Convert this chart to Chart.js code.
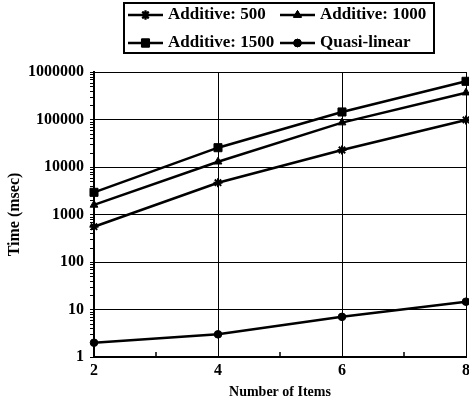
<!DOCTYPE html>
<html><head><meta charset="utf-8">
<script src="https://cdn.jsdelivr.net/npm/chart.js@4"></script>
<style>html,body{margin:0;padding:0;background:#fff;overflow:hidden;width:469px;height:407px}canvas{display:block}</style>
</head><body>
<canvas id="c" width="474" height="407"></canvas>
<script>
const items = [2, 4, 6, 8];
const additive500 = [553, 4670, 22800, 98000];
const additive1000 = [1590, 12900, 86000, 367000];
const additive1500 = [2930, 25500, 144000, 637000];
const quasiLinear = [2.0, 3.0, 7.0, 14.6];
const seriesNames = ['Additive: 500', 'Additive: 1000', 'Additive: 1500', 'Quasi-linear'];
const xTickLabels = [2, 4, 6, 8];
const yTickLabels = [1, 10, 100, 1000, 10000, 100000, 1000000];
const xMinorTicks = [3, 5, 7];
const yMinorSteps = [2, 3, 4, 5, 6, 7, 8, 9];

const FONT = '"Liberation Serif", "Times New Roman", serif';
const pts = arr => items.map((x, i) => ({x, y: arr[i]}));

function ds(label, data, style, radius) {
  return {
    label, data: pts(data), borderColor: '#000', backgroundColor: '#000',
    borderWidth: 2.5, pointStyle: style, pointRadius: radius, pointHoverRadius: radius,
    pointBorderColor: '#000', pointBackgroundColor: '#000', pointBorderWidth: style === 'star' ? 2 : 1,
    tension: 0, clip: false
  };
}

const legendPlugin = {
  id: 'boxLegend',
  afterDraw(chart) {
    const ctx = chart.ctx;
    ctx.save();
    ctx.lineWidth = 2;
    ctx.strokeStyle = '#000';
    ctx.strokeRect(124, 3, 310, 50);
    const pos = [[128, 15], [280, 15], [128, 43], [280, 43]];
    ctx.font = 'bold 17px ' + FONT;
    ctx.textBaseline = 'middle';
    ctx.fillStyle = '#000';
    chart.data.datasets.forEach((d, k) => {
      const [x, y] = pos[k];
      ctx.beginPath();
      ctx.lineWidth = 2.5;
      ctx.moveTo(x, y); ctx.lineTo(x + 35, y); ctx.stroke();
      ctx.lineWidth = d.pointBorderWidth;
      Chart.helpers.drawPoint(ctx, {pointStyle: d.pointStyle, rotation: 0, borderWidth: d.pointBorderWidth, radius: d.pointRadius}, x + 17.5, y);
      ctx.fill(); ctx.stroke();
      ctx.fillText(d.label, x + 40, y);
    });
    ctx.restore();
  }
};

const minorTickPlugin = {
  id: 'minorTicks',
  afterDatasetsDraw(chart) {
    const ctx = chart.ctx, xs = chart.scales.x, ys = chart.scales.y, area = chart.chartArea;
    ctx.save();
    ctx.strokeStyle = '#000'; ctx.lineWidth = 1.5;
    xMinorTicks.forEach(v => {
      const px = xs.getPixelForValue(v);
      ctx.beginPath(); ctx.moveTo(px, area.bottom); ctx.lineTo(px, area.bottom - 5); ctx.stroke();
    });
    ctx.lineWidth = 1;
    yTickLabels.slice(0, -1).forEach(dec => {
      yMinorSteps.forEach(m => {
        const py = Math.round(ys.getPixelForValue(dec * m)) + 0.5;
        ctx.beginPath(); ctx.moveTo(area.left - 4, py); ctx.lineTo(area.left, py); ctx.stroke();
      });
    });
    ctx.restore();
  }
};

const isMajorVal = v => yTickLabels.includes(v);

new Chart(document.getElementById('c'), {
  type: 'line',
  data: {
    datasets: [
      ds(seriesNames[0], additive500, 'star', 4.5),
      ds(seriesNames[1], additive1000, 'triangle', 4.5),
      ds(seriesNames[2], additive1500, 'rect', 5.7),
      ds(seriesNames[3], quasiLinear, 'circle', 3.8)
    ]
  },
  options: {
    responsive: false, animation: false,
    layout: {padding: {top: 72, right: 2, left: 0, bottom: 0}},
    plugins: {legend: {display: false}, tooltip: {enabled: false}},
    scales: {
      x: {
        type: 'linear', min: 2, max: 8,
        afterBuildTicks: s => { s.ticks = [2,3,4,5,6,7,8].map(v => ({value: v})); },
        afterFit: s => { s.height = 50; },
        ticks: {
          autoSkip: false, maxRotation: 0, padding: 4, color: '#000',
          font: {family: FONT, weight: 'bold', size: 16},
          callback: v => xTickLabels.includes(v) ? String(v) : ''
        },
        grid: {
          drawTicks: false,
          color: c => (c.tick && xTickLabels.includes(c.tick.value)) ? '#000' : 'rgba(0,0,0,0)',
          lineWidth: 1
        },
        border: {color: '#000', width: 2},
        title: {display: true, text: 'Number of Items', color: '#000', font: {family: FONT, weight: 'bold', size: 14}, padding: {top: 0, bottom: 6.5}}
      },
      y: {
        type: 'logarithmic', min: 1, max: 1000000,
        afterBuildTicks: s => { s.ticks = s.ticks.filter(t => isMajorVal(t.value)); },
        afterFit: s => { s.width = 94; },
        ticks: {
          autoSkip: false, padding: 6, color: '#000',
          font: {family: FONT, weight: 'bold', size: 16},
          callback: v => isMajorVal(v) ? String(v) : ''
        },
        grid: {
          drawTicks: true, tickLength: 4, tickColor: '#000', tickWidth: 1,
          color: '#000',
          lineWidth: 1
        },
        border: {color: '#000', width: 2},
        title: {display: true, text: 'Time (msec)', color: '#000', font: {family: FONT, weight: 'bold', size: 16}, padding: {top: 5, bottom: 0}}
      }
    }
  },
  plugins: [legendPlugin, minorTickPlugin]
});
</script>
</body></html>
